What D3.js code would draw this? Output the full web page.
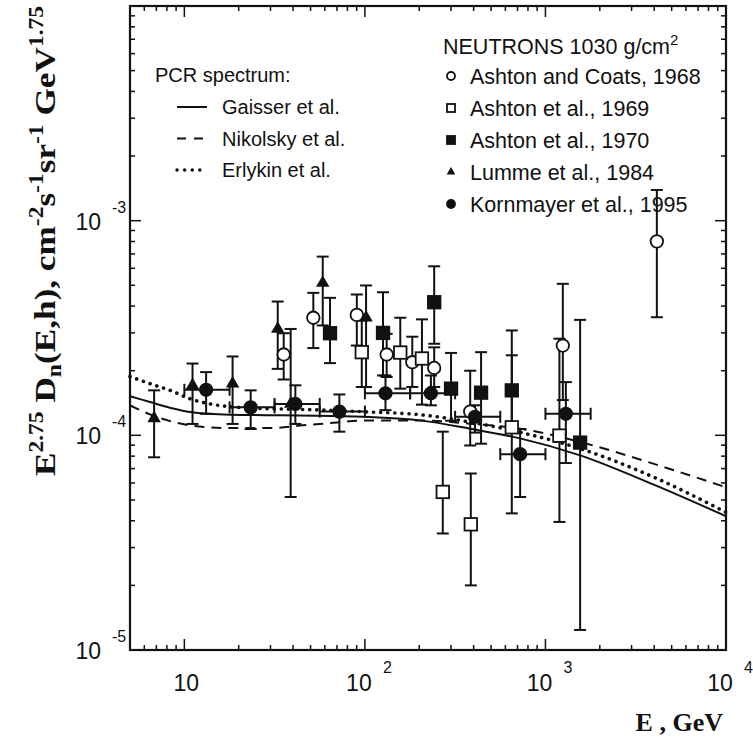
<!DOCTYPE html>
<html>
<head>
<meta charset="utf-8">
<script src="https://cdn.jsdelivr.net/npm/d3@7"></script>
<style>
    body { margin: 0; background: #fff; }
    text { font-family: "Liberation Sans", Arial, Helvetica, sans-serif; fill: #111; }
    .axisTitle { font-family: "Liberation Serif", "Times New Roman", serif; font-weight: bold; }
</style>
</head>
<body>
<div id="chart"></div>
<script>
// PCR spectrum curves: [E (GeV), E^2.75 Dn]
const gaisser = [[5, 1.52e-4], [6.45, 1.43e-4], [8.33, 1.345e-4], [10.75, 1.284e-4], [17.9, 1.248e-4],
    [33.9, 1.239e-4], [64.1, 1.232e-4], [106.8, 1.217e-4], [202, 1.174e-4], [382, 1.074e-4],
    [724, 9.68e-5], [1556, 8.07e-5], [3950, 5.91e-5], [10000, 4.2e-5]];

const nikolsky = [[5, 1.38e-4], [6.45, 1.252e-4], [8.33, 1.165e-4], [10.75, 1.113e-4], [17.9, 1.081e-4],
    [29.8, 1.081e-4], [45.4, 1.113e-4], [64.1, 1.14e-4], [106.8, 1.174e-4], [202, 1.174e-4],
    [382, 1.133e-4], [724, 1.074e-4], [1556, 9.31e-5], [3950, 7.38e-5], [10000, 5.73e-5]];

const erlykin = [[5, 1.88e-4], [6.45, 1.74e-4], [8.33, 1.62e-4], [10.75, 1.48e-4], [13.9, 1.40e-4],
    [17.9, 1.36e-4], [29.8, 1.33e-4], [49.7, 1.317e-4], [64.1, 1.307e-4], [106.8, 1.284e-4],
    [202, 1.248e-4], [382, 1.153e-4], [724, 1.033e-4], [1556, 8.67e-5], [3950, 6.40e-5], [10000, 4.38e-5]];

// Neutron data: e = energy, v = value, lo/hi = error bar ends
const ashtonCoats1968 = [
    {e: 35.5, v: 2.38e-4, lo: 1.82e-4, hi: 2.99e-4},
    {e: 51.8, v: 3.53e-4, lo: 2.55e-4, hi: 4.61e-4},
    {e: 90.2, v: 3.64e-4, lo: 2.62e-4, hi: 4.53e-4},
    {e: 132, v: 2.38e-4, lo: 1.87e-4, hi: 2.97e-4},
    {e: 183, v: 2.19e-4, lo: 1.68e-4, hi: 2.88e-4},
    {e: 242, v: 2.06e-4, lo: 1.68e-4, hi: 2.57e-4},
    {e: 383, v: 1.29e-4, lo: 8.97e-5, hi: 2.0e-4},
    {e: 1248, v: 2.62e-4, lo: 1.46e-4, hi: 5.08e-4},
    {e: 4140, v: 8.01e-4, lo: 3.55e-4, hi: 1.39e-3}];

const ashton1969 = [
    {e: 96.1, v: 2.44e-4, lo: 1.68e-4, hi: 3.43e-4},
    {e: 157, v: 2.43e-4, lo: 1.65e-4, hi: 3.53e-4},
    {e: 207, v: 2.28e-4, lo: 1.39e-4, hi: 3.47e-4},
    {e: 270, v: 5.45e-5, lo: 3.49e-5, hi: 1.04e-4},
    {e: 386, v: 3.85e-5, lo: 2.0e-5, hi: 6.64e-5},
    {e: 651, v: 1.09e-4, lo: 4.33e-5, hi: 2.36e-4},
    {e: 1195, v: 9.97e-5, lo: 3.95e-5, hi: 2.82e-4}];

const ashton1970 = [
    {e: 64.1, v: 2.99e-4, lo: 2.17e-4, hi: 4.37e-4},
    {e: 126, v: 3.0e-4, lo: 1.9e-4, hi: 4.64e-4},
    {e: 242, v: 4.17e-4, lo: 2.67e-4, hi: 6.13e-4},
    {e: 300, v: 1.65e-4, lo: 1.17e-4, hi: 2.42e-4},
    {e: 440, v: 1.58e-4, lo: 9.14e-5, hi: 2.44e-4},
    {e: 651, v: 1.62e-4, lo: 1.09e-4, hi: 3.08e-4},
    {e: 1556, v: 9.25e-5, lo: 1.24e-5, hi: 3.45e-4}];

const lumme1984 = [
    {e: 6.8, v: 1.20e-4, lo: 7.9e-5, hi: 1.62e-4},
    {e: 11.1, v: 1.71e-4, lo: 1.13e-4, hi: 2.16e-4},
    {e: 18.5, v: 1.74e-4, lo: 1.13e-4, hi: 2.33e-4},
    {e: 32.9, v: 3.13e-4, lo: 2.04e-4, hi: 4.2e-4},
    {e: 38.8, v: 1.40e-4, lo: 5.16e-5, hi: 3.13e-4},
    {e: 58.4, v: 5.13e-4, lo: 3.25e-4, hi: 6.8e-4},
    {e: 101.5, v: 3.53e-4, lo: 1.68e-4, hi: 4.99e-4}];

const kornmayer1995 = [
    {e: 13.2, v: 1.63e-4, lo: 1.26e-4, hi: 1.97e-4, elo: 10, ehi: 17.8},
    {e: 23.3, v: 1.35e-4, lo: 1.07e-4, hi: 1.62e-4, elo: 17.8, ehi: 31.6},
    {e: 41.2, v: 1.40e-4, lo: 1.13e-4, hi: 1.71e-4, elo: 31.6, ehi: 56.2},
    {e: 72.2, v: 1.29e-4, lo: 1.04e-4, hi: 1.55e-4, elo: 56.2, ehi: 100},
    {e: 130, v: 1.57e-4, lo: 1.31e-4, hi: 1.90e-4, elo: 100, ehi: 178},
    {e: 232, v: 1.57e-4, lo: 1.38e-4, hi: 1.90e-4, elo: 178, ehi: 316},
    {e: 407, v: 1.22e-4, lo: 1.03e-4, hi: 1.38e-4, elo: 316, ehi: 562},
    {e: 724, v: 8.17e-5, lo: 5.16e-5, hi: 1.07e-4, elo: 562, ehi: 1000},
    {e: 1297, v: 1.26e-4, lo: 7.43e-5, hi: 1.77e-4, elo: 1000, ehi: 1780}];

// tick labels: base and exponent
const xTicks = [{v: 10, exp: ""}, {v: 100, exp: "2"}, {v: 1000, exp: "3"}, {v: 10000, exp: "4"}];
const yTicks = [{v: 1e-3, exp: "-3"}, {v: 1e-4, exp: "-4"}, {v: 1e-5, exp: "-5"}];

const curveStyles = [
    {name: "Gaisser et al.", data: gaisser, width: 2, dash: null},
    {name: "Nikolsky et al.", data: nikolsky, width: 2, dash: "10 7"},
    {name: "Erlykin et al.", data: erlykin, width: 3.6, dash: "0.1 7"}];

const width = 753, height = 740;
const margin = {top: 6, left: 130, right: 27, bottom: 90};
const black = "#111";

const svg = d3.select("#chart").append("svg")
    .attr("width", width)
    .attr("height", height);

const xScale = d3.scaleLog().domain([5, 1e4]).range([margin.left, width - margin.right]);
const yScale = d3.scaleLog().domain([1e-5, 1e-2]).range([height - margin.bottom, margin.top]);

// Frame and ticks on all four sides
function drawAxes() {
    const x0 = margin.left, x1 = width - margin.right;
    const y0 = margin.top, y1 = height - margin.bottom;

    const xMinor = [];
    [1, 10, 100, 1000].forEach(function(d) {
        for (let k = 2; k <= 9; k++) if (d * k >= 5 && d * k < 1e4) xMinor.push(d * k);
    });
    const yMinor = [];
    [1e-5, 1e-4, 1e-3].forEach(function(d) {
        for (let k = 2; k <= 9; k++) yMinor.push(d * k);
    });
    const xMajor = [10, 100, 1000];
    const yMajor = [1e-4, 1e-3];

    const g = svg.append("g").attr("stroke", black).attr("stroke-width", 1.5);

    function xTick(v, len) {
        g.append("line").attr("x1", xScale(v)).attr("x2", xScale(v)).attr("y1", y1).attr("y2", y1 - len);
        g.append("line").attr("x1", xScale(v)).attr("x2", xScale(v)).attr("y1", y0).attr("y2", y0 + len);
    }
    function yTick(v, len) {
        g.append("line").attr("y1", yScale(v)).attr("y2", yScale(v)).attr("x1", x0).attr("x2", x0 + len);
        g.append("line").attr("y1", yScale(v)).attr("y2", yScale(v)).attr("x1", x1).attr("x2", x1 - len);
    }
    xMinor.forEach(function(v) { xTick(v, 5); });
    xMajor.forEach(function(v) { xTick(v, 11); });
    yMinor.forEach(function(v) { yTick(v, 5); });
    yMajor.forEach(function(v) { yTick(v, 11); });

    svg.append("rect")
        .attr("x", x0).attr("y", y0)
        .attr("width", x1 - x0).attr("height", y1 - y0)
        .attr("fill", "none").attr("stroke", black).attr("stroke-width", 2.2);

    // tick labels 10^n
    xTicks.forEach(function(d) {
        svg.append("text")
            .attr("x", xScale(d.v) + (d.exp ? -6 : 2))
            .attr("y", 691)
            .attr("text-anchor", "middle")
            .attr("font-size", 23)
            .text("10");
        if (d.exp) {
            svg.append("text")
                .attr("x", xScale(d.v) + 18)
                .attr("y", 673)
                .attr("font-size", 16)
                .text(d.exp);
        }
    });
    yTicks.forEach(function(d) {
        svg.append("text")
            .attr("x", 101)
            .attr("y", yScale(d.v) + 9)
            .attr("text-anchor", "end")
            .attr("font-size", 23)
            .text("10");
        svg.append("text")
            .attr("x", 112)
            .attr("y", yScale(d.v) - 8)
            .attr("font-size", 16)
            .text(d.exp);
    });

    // axis titles
    svg.append("text")
        .attr("class", "axisTitle")
        .attr("x", 723)
        .attr("y", 731)
        .attr("text-anchor", "end")
        .attr("font-size", 26)
        .text("E , GeV");

    const yt = svg.append("text")
        .attr("class", "axisTitle")
        .attr("transform", "translate(55,241) rotate(-90)")
        .attr("text-anchor", "middle")
        .attr("font-size", 30)
        .attr("textLength", 470)
        .attr("lengthAdjust", "spacingAndGlyphs");
    const parts = [
        ["E", 0, 30], ["2.75", -12, 20], [" D", 12, 30], ["n", 6, 20], ["(E,h), cm", -6, 30],
        ["-2", -12, 20], ["s", 12, 30], ["-1", -12, 20], ["sr", 12, 30], ["-1", -12, 20],
        [" GeV", 12, 30], ["1.75", -12, 20]];
    parts.forEach(function(p) {
        yt.append("tspan").attr("dy", p[1]).attr("font-size", p[2]).text(p[0]);
    });
}

// Curves for the PCR spectrum
function drawCurves() {
    const line = d3.line()
        .x(function(d) { return xScale(d[0]); })
        .y(function(d) { return yScale(d[1]); })
        .curve(d3.curveMonotoneX);

    curveStyles.forEach(function(c) {
        svg.append("path")
            .datum(c.data)
            .attr("d", line)
            .attr("fill", "none")
            .attr("stroke", black)
            .attr("stroke-width", c.width)
            .attr("stroke-linecap", c.dash && c.width > 3 ? "round" : "butt")
            .attr("stroke-dasharray", c.dash);
    });
}

// Error bars with caps
function drawErrors(data) {
    const cap = 6;
    const g = svg.append("g").attr("stroke", black).attr("stroke-width", 2);
    data.forEach(function(d) {
        const x = xScale(d.e), ylo = yScale(d.lo), yhi = yScale(d.hi);
        g.append("line").attr("x1", x).attr("x2", x).attr("y1", ylo).attr("y2", yhi);
        g.append("line").attr("x1", x - cap).attr("x2", x + cap).attr("y1", ylo).attr("y2", ylo);
        g.append("line").attr("x1", x - cap).attr("x2", x + cap).attr("y1", yhi).attr("y2", yhi);
        if (d.elo) {
            const y = yScale(d.v), xl = xScale(d.elo), xr = xScale(d.ehi);
            g.append("line").attr("x1", xl).attr("x2", xr).attr("y1", y).attr("y2", y);
            g.append("line").attr("x1", xl).attr("x2", xl).attr("y1", y - cap).attr("y2", y + cap);
            g.append("line").attr("x1", xr).attr("x2", xr).attr("y1", y - cap).attr("y2", y + cap);
        }
    });
}

function marker(g, type, x, y, s) {
    if (type === "openCircle" || type === "circle") {
        g.append("circle").attr("cx", x).attr("cy", y).attr("r", s * 0.5)
            .attr("fill", type === "circle" ? black : "white")
            .attr("stroke", black).attr("stroke-width", 1.8);
    } else if (type === "openSquare" || type === "square") {
        g.append("rect").attr("x", x - s / 2).attr("y", y - s / 2).attr("width", s).attr("height", s)
            .attr("fill", type === "square" ? black : "white")
            .attr("stroke", black).attr("stroke-width", 1.8);
    } else {
        g.append("path")
            .attr("transform", `translate(${x},${y})`)
            .attr("d", d3.symbol().type(d3.symbolTriangle).size(s * s * 0.5)())
            .attr("fill", black);
    }
}

const series = [
    {name: "Ashton and Coats, 1968", data: ashtonCoats1968, type: "openCircle"},
    {name: "Ashton et al., 1969", data: ashton1969, type: "openSquare"},
    {name: "Ashton et al., 1970", data: ashton1970, type: "square"},
    {name: "Lumme et al., 1984", data: lumme1984, type: "triangle"},
    {name: "Kornmayer et al., 1995", data: kornmayer1995, type: "circle"}];

drawCurves();
series.forEach(function(s) { drawErrors(s.data); });
series.forEach(function(s) {
    const g = svg.append("g");
    s.data.forEach(function(d) { marker(g, s.type, xScale(d.e), yScale(d.v), 12.5); });
});
drawAxes();

// Legends
const legL = svg.append("g");
legL.append("text").attr("x", 155).attr("y", 82).attr("font-size", 20).text("PCR spectrum:");
curveStyles.forEach(function(c, i) {
    const y = 107 + i * 31.5;
    legL.append("line")
        .attr("x1", 177).attr("x2", 207).attr("y1", y).attr("y2", y)
        .attr("stroke", black)
        .attr("stroke-width", c.width === 2 ? 2 : 3.4)
        .attr("stroke-linecap", c.width > 3 ? "round" : "butt")
        .attr("stroke-dasharray", c.width > 3 ? "0.1 7.5" : (c.dash ? "9 8" : null));
    legL.append("text").attr("x", 222).attr("y", y + 7).attr("font-size", 20).text(c.name);
});

const legR = svg.append("g");
const nt = legR.append("text").attr("x", 443).attr("y", 54).attr("font-size", 21.5);
nt.append("tspan").text("NEUTRONS 1030 g/cm");
nt.append("tspan").attr("dy", -9).attr("font-size", 15).text("2");
series.forEach(function(s, i) {
    const y = 76 + i * 32;
    marker(legR, s.type, 451, y, 8);
    legR.append("text").attr("x", 470).attr("y", y + 7.5).attr("font-size", 21.5).text(s.name);
});
</script>
</body>
</html>
